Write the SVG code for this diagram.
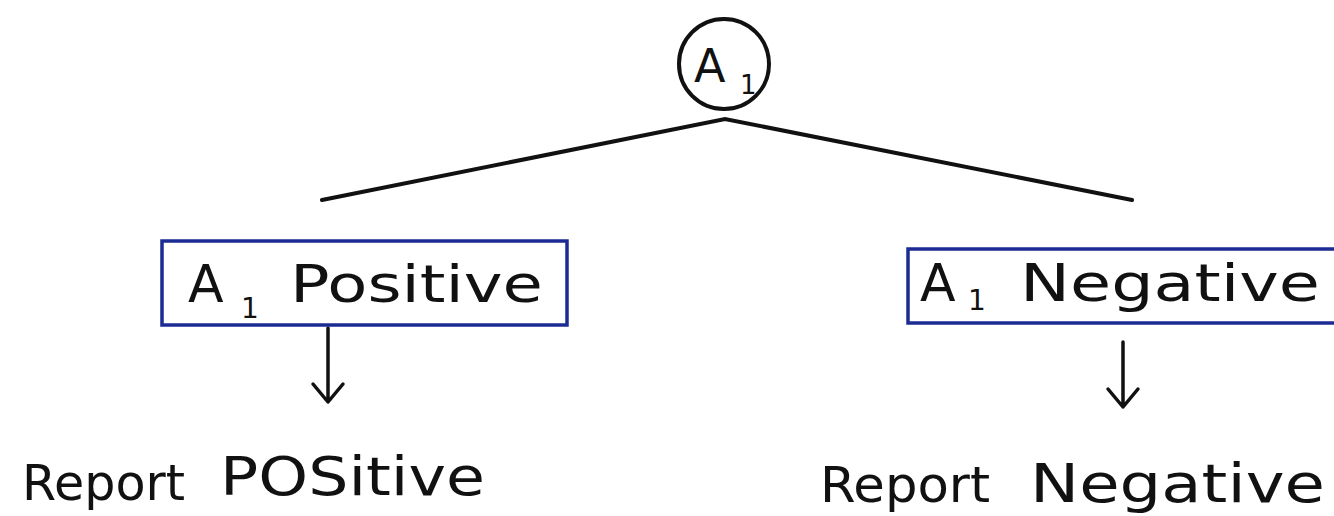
<svg xmlns="http://www.w3.org/2000/svg" width="1334" height="516" viewBox="0 0 1334 516">
<style>
text{font-family:"DejaVu Sans","Noto Sans",sans-serif;fill:#111;}
.box{fill:#fff;stroke:#1c2b94;stroke-width:3.5;}
.ln{stroke:#111;stroke-width:4;fill:none;stroke-linecap:round;}
.ar{stroke:#111;stroke-width:3.5;fill:none;stroke-linecap:round;stroke-linejoin:round;}
.t{font-size:52px;}
.b{font-size:54px;}
.r{font-size:50px;}
.sub{font-size:28px;}
</style>
<rect width="1334" height="516" fill="#fff"/>
<g id="connectors">
<path class="ln" d="M322,200 L725,119 L1132,200"/>
<path class="ar" d="M328,328 L328,402 M313,384 L328,402 L343,384"/>
<path class="ar" d="M1123,342 L1123,407 M1108,389 L1123,407 L1138,389"/>
</g>
<g id="node-a1">
<circle cx="724" cy="64" r="45" fill="#fff" stroke="#111" stroke-width="4"/>
<text x="694" y="82" style="font-size:46px">A</text>
<text x="740" y="94" class="sub" style="font-size:26px">1</text>
</g>
<g id="node-a1-positive">
<rect class="box" x="162" y="241" width="405" height="84"/>
<text x="188" y="302" class="t">A</text>
<text x="241" y="318" class="sub">1</text>
<text x="290" y="302" class="t" textLength="253" lengthAdjust="spacingAndGlyphs">Positive</text>
</g>
<g id="node-a1-negative">
<rect class="box" x="908" y="249" width="440" height="74"/>
<text x="920" y="301" class="t">A</text>
<text x="968" y="310" class="sub">1</text>
<text x="1020" y="301" class="t" textLength="300" lengthAdjust="spacingAndGlyphs">Negative</text>
</g>
<g id="node-report-positive">
<text x="22" y="500" class="r" textLength="163" lengthAdjust="spacingAndGlyphs">Report</text>
<text x="220" y="495" class="b" textLength="265" lengthAdjust="spacingAndGlyphs">POSitive</text>
</g>
<g id="node-report-negative">
<text x="820" y="502" class="r" textLength="170" lengthAdjust="spacingAndGlyphs">Report</text>
<text x="1030" y="502" class="b" textLength="295" lengthAdjust="spacingAndGlyphs">Negative</text>
</g>
</svg>
